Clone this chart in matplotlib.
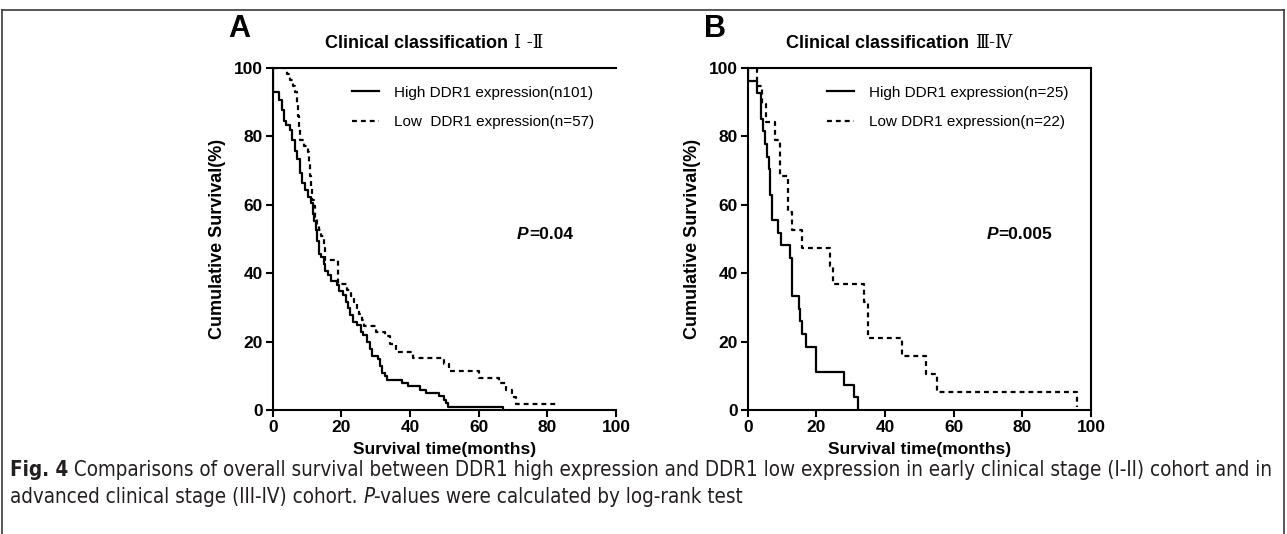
import matplotlib
matplotlib.use("Agg")
import matplotlib.pyplot as plt
from matplotlib.lines import Line2D

plt.rcParams['font.family'] = ['Liberation Sans', 'DejaVu Sans']

# ---- data ----
# panel A : clinical classification I-II
hi_a_t = [0, 0.2, 1.9, 2.6, 3.3, 4.0, 4.9, 5.6, 6.4, 7.1, 7.9, 8.6, 9.4, 10.4, 11.2,
          11.6, 12.0, 12.6, 13.0, 13.4, 14.2, 14.8, 15.3, 16.0, 17.0, 18.8, 19.4, 20.6,
          21.4, 22.0, 22.6, 23.4, 24.6, 25.6, 26.4, 27.4, 28.4, 29.0, 30.6, 31.2, 31.8,
          32.6, 33.4, 37.8, 39.4, 43.0, 44.6, 48.4, 49.8, 50.6, 51.0, 67.0]
hi_a_s = [100, 93.1, 90.7, 87.8, 84.4, 83.2, 82.0, 79.0, 75.6, 73.3, 69.3, 66.3, 64.4, 62.4, 60.4,
          57.4, 55.4, 52.5, 49.5, 45.5, 44.6, 42.6, 40.6, 39.6, 37.6, 36.6, 34.7, 33.7,
          31.7, 29.7, 27.7, 25.7, 24.8, 22.8, 21.8, 19.8, 17.8, 15.8, 14.9, 12.9, 10.9,
          9.9, 8.9, 7.9, 6.9, 5.9, 4.9, 4.0, 3.0, 2.0, 1.0, 0]
lo_a_t = [0, 4.2, 5.0, 6.0, 6.6, 7.0, 7.3, 7.6, 7.9, 9.0, 10.2, 10.5, 10.8, 11.1, 11.4,
          12.0, 12.4, 12.8, 13.6, 14.2, 14.8, 15.2, 18.9, 21.6, 22.8, 23.8, 24.6, 25.2,
          25.9, 26.6, 30.0, 32.6, 34.2, 36.0, 41.0, 50.0, 51.4, 60.2, 65.8, 68.0, 69.8,
          71.0, 83.2]
lo_a_s = [100, 98.2, 96.5, 94.7, 93.0, 89.5, 86.0, 82.5, 78.9, 77.2, 75.4, 71.9, 68.4, 64.9, 61.4,
          59.6, 56.1, 54.4, 52.6, 50.9, 47.4, 43.9, 36.8, 35.1, 33.3, 31.6, 29.8, 28.1,
          26.3, 24.6, 22.8, 21.5, 19.3, 17.1, 15.1, 13.4, 11.4, 9.5, 7.8, 5.9, 3.9,
          1.9, 1.9]

# panel B : clinical classification III-IV
hi_b_t = [0, 0.2, 2.6, 3.9, 4.4, 5.0, 5.5, 6.2, 6.6, 7.0, 8.7, 9.6, 12.3, 12.9,
          14.9, 15.2, 15.7, 17.0, 20.0, 28.0, 31.0, 32.0]
hi_b_s = [100, 96.3, 92.6, 85.2, 81.5, 77.8, 74.1, 70.4, 63.0, 55.6, 51.9, 48.1, 44.4, 33.3,
          29.6, 25.9, 22.2, 18.5, 11.1, 7.4, 3.7, 0]
lo_b_t = [0, 2.6, 4.2, 5.3, 7.9, 9.4, 11.7, 12.8, 15.9, 24.0, 24.8, 33.9, 34.9, 45.0,
          52.0, 55.0, 96.0]
lo_b_s = [100, 94.7, 89.5, 84.2, 78.9, 68.4, 57.9, 52.6, 47.4, 42.1, 36.8, 31.6, 21.1, 15.8,
          10.5, 5.3, 1.0]

ticks = [0, 20, 40, 60, 80, 100]
labels_a = ["High DDR1 expression(n101)", "Low  DDR1 expression(n=57)"]
labels_b = ["High DDR1 expression(n=25)", "Low DDR1 expression(n=22)"]

W, H = 1287, 534
DASH = (0, (2.2, 1.8))


def fx(x):
    return x / W


def fy(y):
    return 1 - y / H


def draw_panel(ax, hi_t, hi_s, lo_t, lo_s, labels, pval, px, right_spine):
    ax.step(hi_t, hi_s, where='post', color='black', lw=1.6)
    ax.step(lo_t, lo_s, where='post', color='black', lw=1.6, ls=DASH)
    ax.set_xlim(0, 100)
    ax.set_ylim(0, 100)
    ax.set_xticks(ticks)
    ax.set_yticks(ticks)
    for s in ax.spines.values():
        s.set_linewidth(1.5)
    ax.spines['right'].set_visible(right_spine)
    ax.tick_params(direction='out', length=5, width=1.5, pad=2, labelsize=12.5)
    for lab in ax.get_xticklabels() + ax.get_yticklabels():
        lab.set_fontweight('bold')
    ax.set_xlabel("Survival time(months)", fontsize=12.5, fontweight='bold', labelpad=5)
    ax.set_ylabel("Cumulative Survival(%)", fontsize=13, fontweight='bold', labelpad=6)

    handles = [Line2D([], [], color='black', lw=1.6),
               Line2D([], [], color='black', lw=1.6, ls=DASH)]
    ax.legend(handles, labels, loc='upper left', bbox_to_anchor=(0.23, 0.948),
              frameon=False, fontsize=11, handlelength=1.8, handletextpad=1.0,
              labelspacing=1.0, borderpad=0, borderaxespad=0)

    p = ax.text(px, 0.512, "P", transform=ax.transAxes, fontsize=12.5,
                fontweight='bold', style='italic', va='center')
    ax.annotate(pval, xy=(1, 0.5), xycoords=p, va='center', fontsize=12.5,
                fontweight='bold')


fig = plt.figure(figsize=(W / 100, H / 100), dpi=100)

ax_a = fig.add_axes([fx(272.7), fy(410), 343.3 / W, 342 / H])
ax_b = fig.add_axes([fx(747.7), fy(410), 343.3 / W, 342 / H])

draw_panel(ax_a, hi_a_t, hi_a_s, lo_a_t, lo_a_s, labels_a, "=0.04", 0.712, False)
draw_panel(ax_b, hi_b_t, hi_b_s, lo_b_t, lo_b_s, labels_b, "=0.005", 0.697, True)

# titles
for x0, main, roman in [(325, "Clinical classification", "\u2160 -\u2161"),
                        (786, "Clinical classification", "\u2162-\u2163")]:
    t = fig.text(fx(x0), fy(43), main, fontsize=13, fontweight='bold', va='center')
    plt.annotate(roman, xy=(1, 0.5), xycoords=t, xytext=(4, 0), textcoords='offset points',
                 va='center', fontsize=13, family=['DejaVu Serif', 'DejaVu Sans'],
                 annotation_clip=False)

fig.text(fx(228), fy(29), "A", fontsize=22, fontweight='bold', va='center')
fig.text(fx(704), fy(29), "B", fontsize=22, fontweight='bold', va='center')

# frame around the figure
frame_kw = dict(color='#3a3a3a', lw=1.2, transform=fig.transFigure)
fig.add_artist(Line2D([fx(2), fx(1284)], [fy(10), fy(10)], **frame_kw))
fig.add_artist(Line2D([fx(2), fx(2)], [fy(10), 0], **frame_kw))
fig.add_artist(Line2D([fx(1284), fx(1284)], [fy(10), 0], **frame_kw))

# caption (condensed face)
cap_kw = dict(fontsize=14.8, family='DejaVu Sans', fontstretch='condensed', color='#231f20')
c1 = fig.text(fx(10), fy(476), "Fig. 4", fontweight='bold', va='baseline', **cap_kw)
plt.annotate(" Comparisons of overall survival between DDR1 high expression and DDR1 low "
             "expression in early clinical stage (I-II) cohort and in",
             xy=(1, 0), xycoords=c1, va='bottom', annotation_clip=False, **cap_kw)
c2 = fig.text(fx(10), fy(503), "advanced clinical stage (III-IV) cohort. ", va='baseline', **cap_kw)
c3 = plt.annotate("P", xy=(1, 0), xycoords=c2, style='italic', va='bottom',
                  annotation_clip=False, **cap_kw)
plt.annotate("-values were calculated by log-rank test", xy=(1, 0), xycoords=c3,
             va='bottom', annotation_clip=False, **cap_kw)

fig.savefig("out.png", dpi=100)
